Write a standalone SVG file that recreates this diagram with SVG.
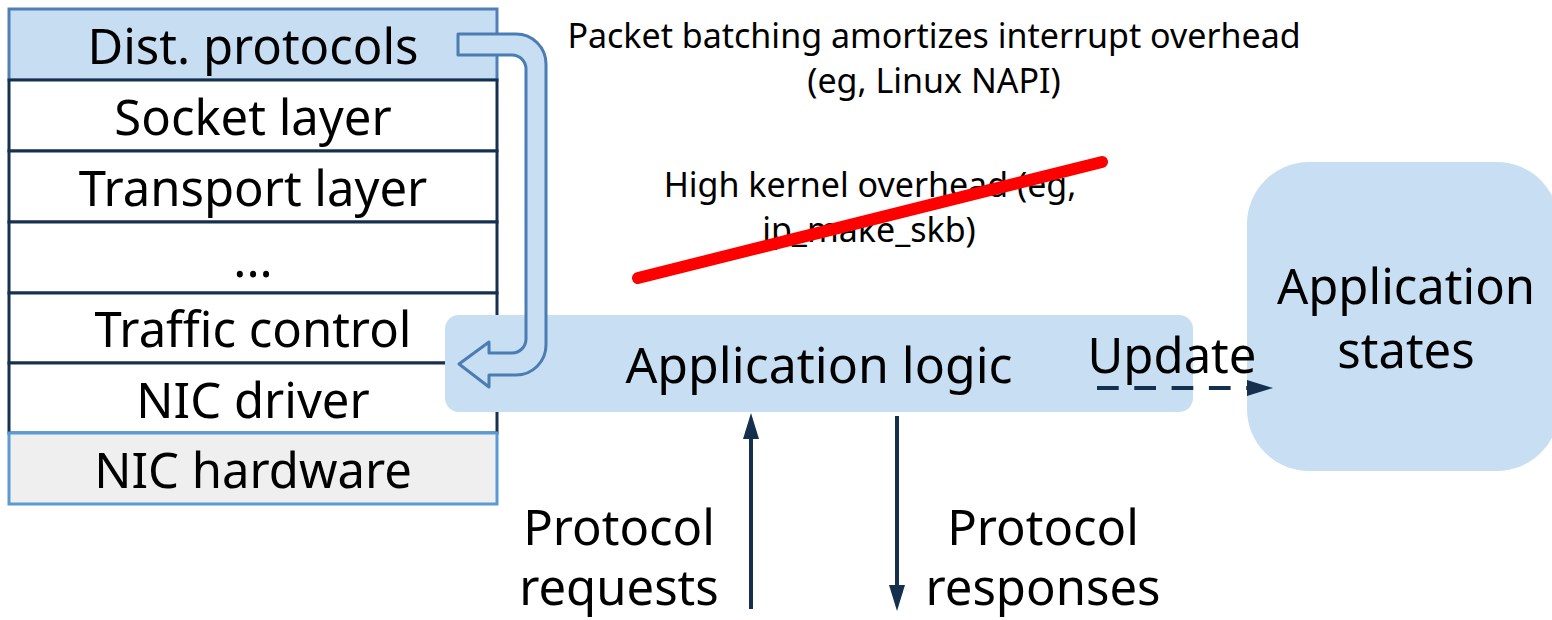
<svg xmlns="http://www.w3.org/2000/svg" width="1552" height="620" viewBox="0 0 1552 620">
  <defs>
    <style>
      text { font-family: "Noto Sans", "Open Sans", "Liberation Sans", sans-serif; fill: #000; }
      .big { font-size: 49px; text-anchor: middle; }
      .small { font-size: 34px; text-anchor: middle; }
      .layer { fill: #ffffff; stroke: #17304f; stroke-width: 3; }
      .layer-top { fill: #c6ddf2; stroke: #4f7fb6; stroke-width: 3; }
      .layer-hw { fill: #efefef; stroke: #5b9bd5; stroke-width: 3; }
      .panel { fill: #c8def2; }
      .flow { fill: #c8def2; stroke: #4a7db4; stroke-width: 3; stroke-linejoin: round; }
      .link { stroke: #15304f; stroke-width: 4; fill: none; }
      .head { fill: #15304f; }
    </style>
  </defs>

  <!-- kernel network stack, top to bottom -->
  <g id="stack">
    <g id="layer-dist">
      <rect class="layer-top" x="9" y="9" width="488" height="71"/>
      <text class="big" x="253" y="64">Dist. protocols</text>
    </g>
    <g id="layer-socket">
      <rect class="layer" x="9" y="80" width="488" height="71"/>
      <text class="big" x="253" y="135">Socket layer</text>
    </g>
    <g id="layer-transport">
      <rect class="layer" x="9" y="151" width="488" height="71"/>
      <text class="big" x="253" y="206">Transport layer</text>
    </g>
    <g id="layer-more">
      <rect class="layer" x="9" y="222" width="488" height="71"/>
      <text class="big" x="253" y="277">...</text>
    </g>
    <g id="layer-tc">
      <rect class="layer" x="9" y="293" width="488" height="70"/>
      <text class="big" x="253" y="347">Traffic control</text>
    </g>
    <g id="layer-driver">
      <rect class="layer" x="9" y="363" width="488" height="70"/>
      <text class="big" x="253" y="418">NIC driver</text>
    </g>
    <g id="layer-hw">
      <rect class="layer-hw" x="9" y="433" width="488" height="71"/>
      <text class="big" x="253" y="488">NIC hardware</text>
    </g>
  </g>

  <!-- annotations -->
  <g id="note-batching">
    <text class="small" x="934" y="48">Packet batching amortizes interrupt overhead</text>
    <text class="small" x="934" y="93">(eg, Linux NAPI)</text>
  </g>
  <g id="note-kernel">
    <text class="small" x="870" y="197">High kernel overhead (eg,</text>
    <text class="small" x="869" y="242">ip_make_skb)</text>
    <line x1="638" y1="278" x2="1102" y2="162" stroke="#ff0000" stroke-width="12" stroke-linecap="round"/>
  </g>

  <g id="app-logic">
    <rect class="panel" x="445" y="315" width="748" height="97" rx="14"/>
    <text class="big" x="819" y="383" style="font-size:50px">Application logic</text>
  </g>

  <g id="app-states">
    <rect class="panel" x="1247" y="162" width="312" height="309" rx="62"/>
    <text class="big" x="1406" y="304">Application</text>
    <text class="big" x="1406" y="368">states</text>
  </g>

  <g id="label-requests">
    <text class="big" x="619" y="545">Protocol</text>
    <text class="big" x="619" y="605">requests</text>
  </g>
  <g id="label-responses">
    <text class="big" x="1043" y="545">Protocol</text>
    <text class="big" x="1043" y="605">responses</text>
  </g>

  <g id="connectors">
    <!-- U-turn block arrow: out of the distributed protocols, back into the app -->
    <path class="flow" d="M458 34 H516 A30 30 0 0 1 546 64 V345 A30 30 0 0 1 516 375 H489 V387 L459 364 L489 342 V353 H512 A14 14 0 0 0 526 339 V69 A14 14 0 0 0 512 55 H458 Z"/>

    <!-- requests in -->
    <line class="link" x1="751" y1="609" x2="751" y2="436"/>
    <polygon class="head" points="751,413 743,439 759,439"/>

    <!-- responses out -->
    <line class="link" x1="897" y1="416" x2="897" y2="588"/>
    <polygon class="head" points="897,611 889,585 905,585"/>

    <!-- state update -->
    <line class="link" x1="1097" y1="388" x2="1248" y2="388" stroke-dasharray="21.7 15.6"/>
    <polygon class="head" points="1273,388 1247,380 1247,396"/>
    <text class="big" x="1172" y="373">Update</text>
  </g>
</svg>
